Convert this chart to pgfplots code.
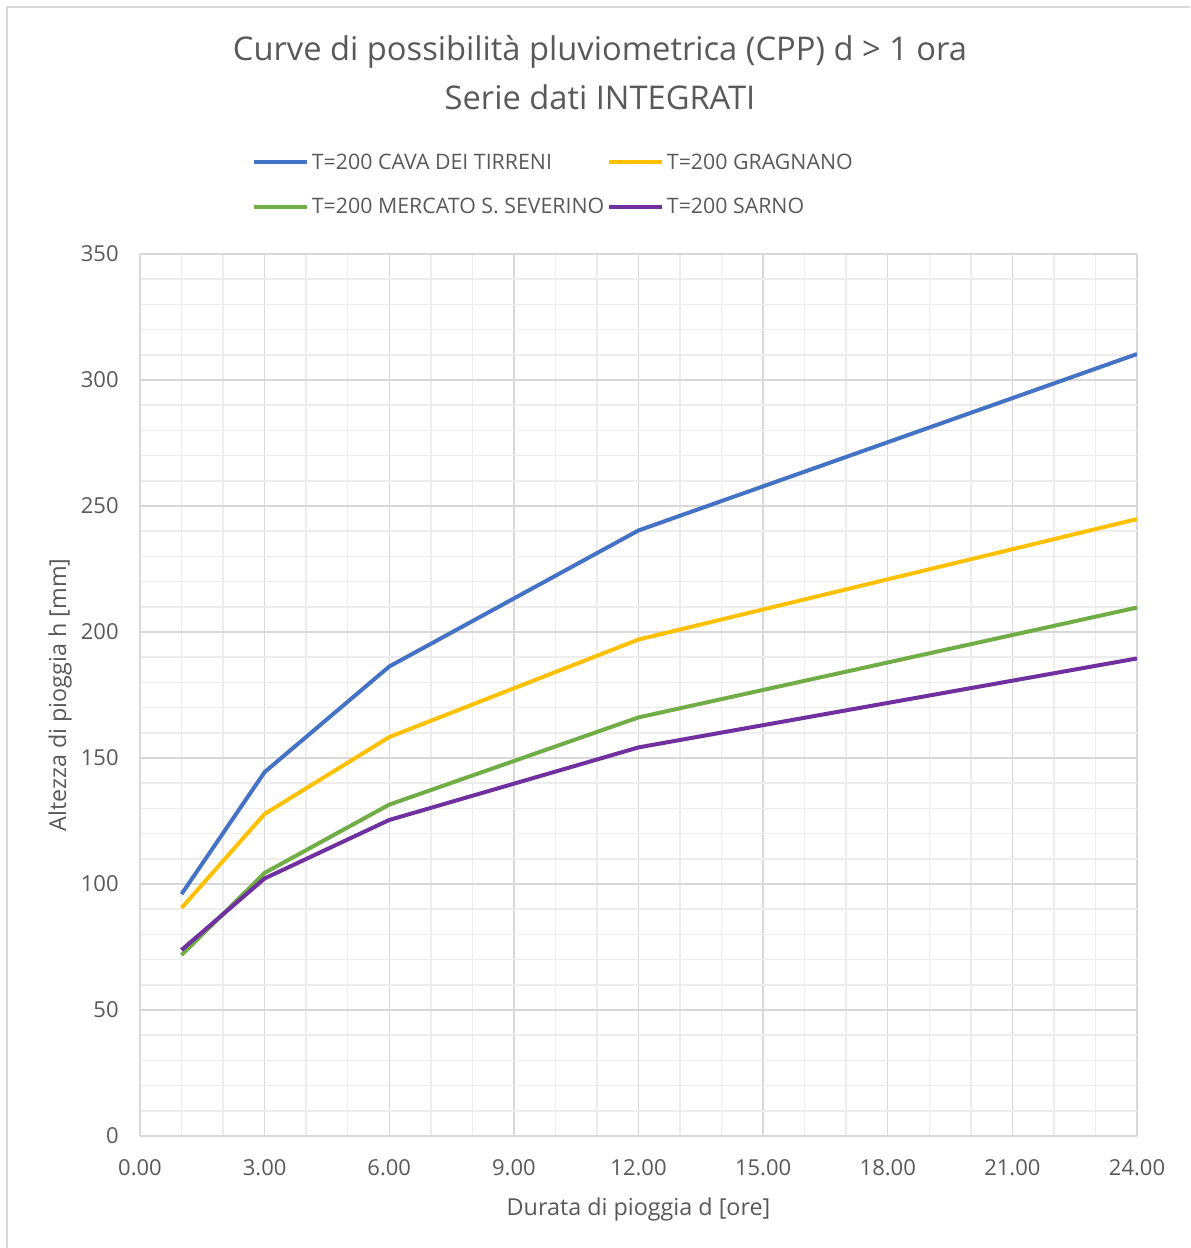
\documentclass[border=0pt]{standalone}
\usepackage{fontspec}
\setmainfont{Open Sans}
\usepackage{pgfplots}
\pgfplotsset{compat=1.18}
\definecolor{cblue}{HTML}{4472C4}
\definecolor{cyellow}{HTML}{FFC000}
\definecolor{cgreen}{HTML}{70AD47}
\definecolor{cpurple}{HTML}{7030A0}
\definecolor{ctext}{HTML}{595959}
\definecolor{cmajor}{HTML}{D9D9D9}
\definecolor{cminor}{HTML}{EDEDED}
\begin{document}
\begin{tikzpicture}
\path[use as bounding box] (0pt,0pt) rectangle (892.5pt,936pt);
\draw[cmajor, line width=1.5pt] (5.25pt,0pt) -- (5.25pt,930.75pt) -- (892.5pt,930.75pt);
\node[text=ctext, font=\fontsize{24.5}{28}\selectfont] at (450pt,897pt) {Curve di possibilità pluviometrica (CPP) d > 1 ora};
\node[text=ctext, font=\fontsize{24.5}{28}\selectfont] at (450pt,863.25pt) {Serie dati INTEGRATI};
\begin{axis}[
  at={(105pt,84pt)}, anchor=origin,
  scale only axis, width=747.75pt, height=661.5pt,
  xmin=0, xmax=24, ymin=0, ymax=350,
  xtick={0,3,...,24}, ytick={0,50,...,350},
  minor x tick num=2, minor y tick num=4,
  grid=both,
  major grid style={cmajor, line width=1.1pt},
  minor grid style={cminor, line width=1.1pt},
  axis line style={cmajor, line width=1.3pt},
  axis x line*=bottom, axis y line*=left,
  tick style={draw=none},
  tick label style={text=ctext, font=\fontsize{16.5}{19}\selectfont},
  /pgf/number format/assume math mode=true,
  xticklabel={\pgfmathprintnumber[fixed,fixed zerofill,precision=2]{\tick}},
  yticklabel={\pgfmathprintnumber[fixed,precision=0]{\tick}},
  xticklabel style={yshift=-14pt},
  yticklabel style={xshift=-12.5pt},
  xlabel={Durata di pioggia d [ore]},
  ylabel={Altezza di pioggia h [mm]},
  label style={text=ctext, font=\fontsize{17.5}{20}\selectfont},
  xlabel style={yshift=-10pt},
  ylabel style={yshift=0pt},
  legend columns=2,
  legend cell align=left,
  legend style={draw=none, fill=none, at={(0.108,1.12)}, anchor=north west,
    font=\fontsize{16}{19}\selectfont, text=ctext,
    /tikz/every even column/.append style={column sep=0pt},
    row sep=16pt},
  legend image code/.code={\draw[#1, line width=3pt] (0pt,0pt) -- (40pt,0pt);},
  every axis plot/.append style={line width=3pt, line join=round},
]
\addplot[cblue, mark=none] coordinates {(1,96.0) (3,144.4) (6,186.3) (12,240.3) (24,310.3)};
\addlegendentry{T=200 CAVA DEI TIRRENI}
\addplot[cyellow, mark=none] coordinates {(1,90.5) (3,127.8) (6,158.3) (12,197.0) (24,244.8)};
\addlegendentry{T=200 GRAGNANO}
\addplot[cgreen, mark=none] coordinates {(1,71.8) (3,104.4) (6,131.5) (12,166.1) (24,209.7)};
\addlegendentry{T=200 MERCATO S. SEVERINO}
\addplot[cpurple, mark=none] coordinates {(1,73.8) (3,102.2) (6,125.4) (12,154.2) (24,189.5)};
\addlegendentry{T=200 SARNO}
\end{axis}
\end{tikzpicture}
\end{document}
